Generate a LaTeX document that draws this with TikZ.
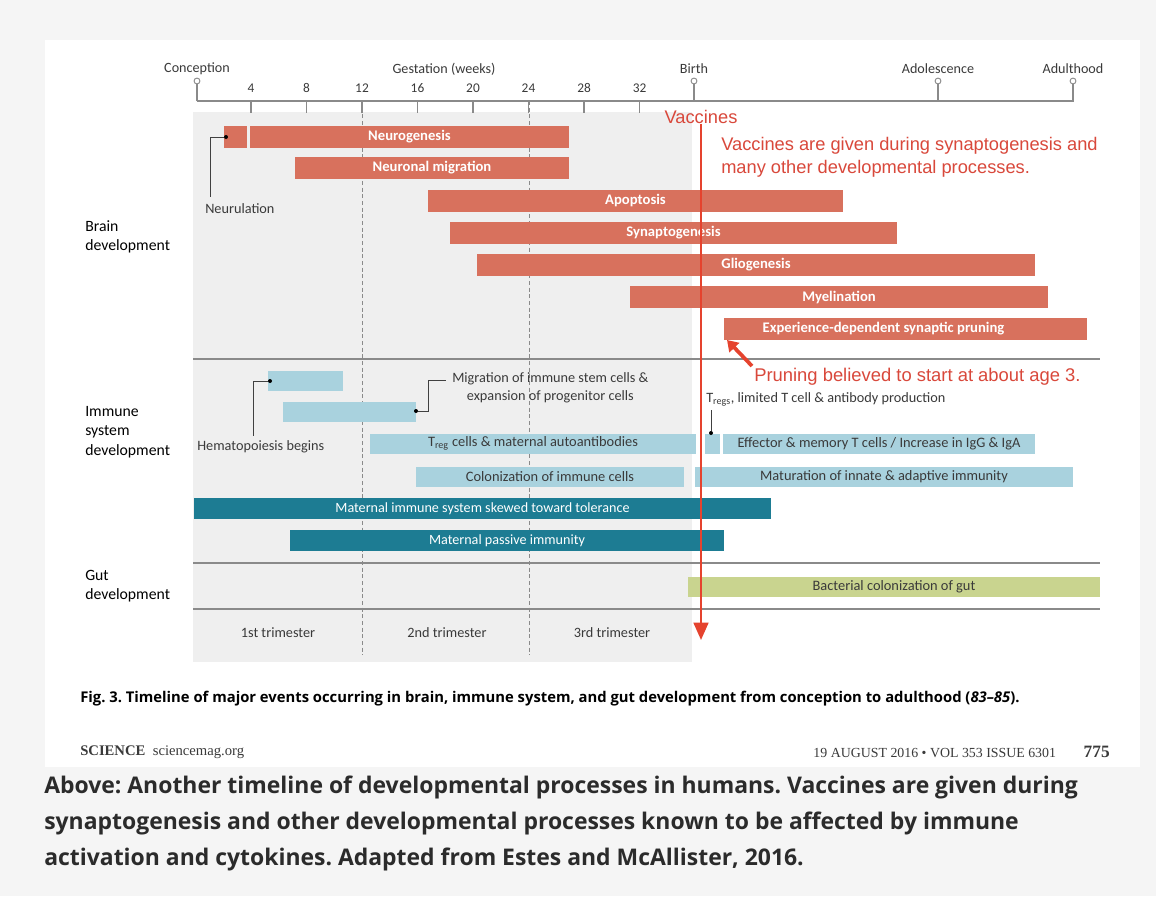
\documentclass[tikz,border=0pt]{standalone}
\usepackage{fontspec}
\setmainfont{Carlito}
\newfontfamily\arialf{Liberation Sans}
\newfontfamily\opensans{Open Sans}
\newfontfamily\serf{Liberation Serif}
\usetikzlibrary{arrows.meta}
\definecolor{bgout}{HTML}{F5F5F5}
\definecolor{panel}{HTML}{EFEFEF}
\definecolor{brainc}{HTML}{D8715D}
\definecolor{immlight}{HTML}{A9D2DE}
\definecolor{immdark}{HTML}{1D7C93}
\definecolor{gutc}{HTML}{C9D48F}
\definecolor{vred}{HTML}{E5432E}
\definecolor{vtext}{HTML}{D9483B}
\definecolor{axisc}{HTML}{8A8A8A}
\definecolor{txtc}{HTML}{3A3A3A}
\definecolor{capc}{HTML}{2B2B2B}
\newcommand\tlbar[6]{\node[#5, minimum width={(#3-#2)*0.75pt}, anchor=west] (#1) at (#2,#4) {#6};}
\tikzset{
  barbase/.style={rectangle, inner sep=0pt, outer sep=0pt},
  brainbar/.style={barbase, fill=brainc, text=white, minimum height=16.5pt, font=\fontsize{11}{12}\selectfont\bfseries},
  immbar/.style={barbase, fill=immlight, text=txtc, minimum height=15pt, font=\fontsize{10.8}{12}\selectfont},
  matbar/.style={barbase, fill=immdark, text=white, minimum height=15.5pt, font=\fontsize{10.6}{12}\selectfont},
  gutbar/.style={barbase, fill=gutc, text=txtc, minimum height=15pt, font=\fontsize{10.8}{12}\selectfont},
  axlab/.style={text=txtc, inner sep=0pt, font=\fontsize{10.6}{12}\selectfont},
  wklab/.style={text=txtc, inner sep=0pt, font=\fontsize{10}{12}\selectfont},
  seclab/.style={text=black, inner sep=0pt, align=left, anchor=west, font=\fontsize{11.8}{14.5}\selectfont},
  note/.style={text=txtc, inner sep=0pt, font=\fontsize{10.7}{13.5}\selectfont},
  sepline/.style={axisc, line width=0.9pt},
  callout/.style={black!75, line width=0.5pt},
  dotc/.style={fill=black, circle, inner sep=0pt, minimum size=3pt},
  redtxt/.style={text=vtext, inner sep=0pt, font=\arialf\fontsize{13.7}{17.3}\selectfont},
  redarrow/.style={vred, line width=1.9pt, -{Triangle[width=11pt,length=13pt]}},
  bigcapline/.style={anchor=base west, inner sep=0pt, text=capc, font=\opensans\bfseries\fontsize{17.2}{20}\selectfont\frenchspacing},
}
\begin{document}
\begin{tikzpicture}[x=0.75pt, y=-0.75pt]
\useasboundingbox (0,0) rectangle (1156,896);
\fill[bgout] (0,0) rectangle (1156,896);
\fill[white] (45,40) rectangle (1140,767);
\fill[panel] (193,112) rectangle (692,662);
% dashed trimester lines
\draw[axisc, line width=0.5pt, dash pattern=on 3pt off 2pt] (362,101) -- (362,655);
\draw[axisc, line width=0.5pt, dash pattern=on 3pt off 2pt] (529,101) -- (529,655);
% axis
\draw[axisc, line width=0.9pt] (197,101) -- (1074,101);
\foreach \w in {4,8,...,32}{
  \pgfmathsetmacro\xx{195.5+13.875*\w}
  \draw[axisc, line width=0.8pt] (\xx,101) -- (\xx,113);
  \node[wklab] (wk\w) at (\xx,88) {\w};
}
\foreach \xx/\nm/\lab in {197/conc/Conception, 694/birth/Birth, 938/adol/Adolescence, 1073/adult/Adulthood}{
  \node[axlab] (\nm) at (\xx,69) {\lab};
  \draw[axisc, line width=0.8pt] (\xx,101) -- (\xx,84);
  \draw[axisc, line width=0.7pt, fill=white] (\xx,81) circle[radius=2.2pt];
}
\node[axlab] (gest) at (444,69) {Gestation (weeks)};
% separators
\draw[sepline] (193,359) -- (1100,359);
\draw[sepline] (193,563) -- (1100,563);
\draw[sepline] (193,609) -- (1100,609);
% section labels
\node[seclab] (brainlab) at (85,237) {Brain\\development};
\node[seclab] (immlab) at (85,432) {Immune\\system\\development};
\node[seclab] (gutlab) at (85,586) {Gut\\development};
% brain bars
\tlbar{neurul}{224}{247}{137}{brainbar}{}
\tlbar{neurog}{250}{569}{137}{brainbar}{Neurogenesis}
\tlbar{migr}{295}{569}{168}{brainbar}{Neuronal migration}
\tlbar{apop}{428}{843}{201}{brainbar}{Apoptosis}
\tlbar{syn}{450}{897}{233}{brainbar}{Synaptogenesis}
\tlbar{glio}{477}{1035}{265}{brainbar}{Gliogenesis}
\tlbar{myel}{630}{1048}{297}{brainbar}{Myelination}
\tlbar{prune}{724}{1087}{329}{brainbar}{Experience-dependent synaptic pruning\hspace*{33pt}}
% neurulation callout
\node[dotc] (ndot) at (226,137) {};
\node[note, anchor=west] (neurtxt) at (205,209) {Neurulation};
\coordinate (nbend) at (210,137);
\coordinate (nend) at (210,197);
\draw[callout] (ndot) -- (nbend) -- (nend);
% immune bars
\tlbar{hema1}{268}{343}{381}{immbar}{}
\tlbar{hema2}{283}{416}{412}{immbar}{}
\tlbar{treg}{370}{696}{443.5}{immbar}{T\textsubscript{reg} cells \& maternal autoantibodies}
\tlbar{tsmall}{705}{720}{443.5}{immbar}{}
\tlbar{effec}{723}{1035}{443.5}{immbar}{Effector \& memory T cells / Increase in IgG \& IgA}
\tlbar{colon}{416}{684}{477}{immbar}{Colonization of immune cells}
\tlbar{matur}{695}{1073}{477}{immbar}{Maturation of innate \& adaptive immunity}
\tlbar{skew}{194}{771}{508.5}{matbar}{Maternal immune system skewed toward tolerance}
\tlbar{pass}{290}{724}{540.5}{matbar}{Maternal passive immunity}
% gut
\tlbar{gut}{688}{1100}{587}{gutbar}{Bacterial colonization of gut}
% immune callouts
\node[dotc] (hdot) at (270,381) {};
\node[note, anchor=west] (hematxt) at (197,447) {Hematopoiesis begins};
\coordinate (hbend) at (253,381);
\coordinate (hend) at (253,436);
\draw[callout] (hdot) -- (hbend) -- (hend);
\node[dotc] (mdot) at (416,411) {};
\node[note, align=center, anchor=west] (migtxt) at (452,388) {Migration of immune stem cells \&\\expansion of progenitor cells};
\coordinate (mb1) at (428,411);
\coordinate (mb2) at (428,380);
\coordinate (mb3) at (446,380);
\draw[callout] (mdot) -- (mb1) -- (mb2) -- (mb3);
\node[note, anchor=west] (tregtxt) at (706,399) {T\textsubscript{regs}, limited T cell \& antibody production};
\node[dotc] (tdot) at (711,433) {};
\coordinate (ttop) at (711,410);
\draw[callout] (ttop) -- (tdot);
% trimesters
\node[note] (tri1) at (278,633) {1st trimester};
\node[note] (tri2) at (447,633) {2nd trimester};
\node[note] (tri3) at (612,633) {3rd trimester};
% vaccines
\node[redtxt] (vacc) at (701,117) {Vaccines};
\coordinate (vbot) at (701,640);
\draw[redarrow] (vacc.south) -- (vbot);
\node[redtxt, anchor=west, align=left] (vnote) at (721,157) {Vaccines are given during synaptogenesis and\\many other developmental processes.};
\node[redtxt, anchor=west, font=\arialf\fontsize{13.8}{16}\selectfont] (prtxt) at (754,377) {Pruning believed to start at about age 3.};
\coordinate (prtail) at (752,366);
\coordinate (prtip) at (727,340);
\draw[vred, line width=2.8pt, -{Triangle[width=10pt,length=8pt]}] (prtail) -- (prtip);
% caption
\node[anchor=west, inner sep=0pt, text=black, font=\opensans\bfseries\fontsize{11.1}{12}\selectfont\frenchspacing] (figcap) at (80,699) {Fig. 3. Timeline of major events occurring in brain, immune system, and gut development from conception to adulthood (\textit{83–85}).};
\node[anchor=west, inner sep=0pt, text=txtc, font=\serf\fontsize{11}{12}\selectfont] (foot1) at (80,752) {\textbf{SCIENCE}\enspace sciencemag.org};
\node[anchor=east, inner sep=0pt, text=txtc, font=\serf\fontsize{10.4}{12}\selectfont] (foot2) at (1110,752) {19 AUGUST 2016 • VOL 353 ISSUE 6301\qquad{\fontsize{13}{13}\selectfont\textbf{775}}};
\node[bigcapline] (cap1) at (44,793) {Above: Another timeline of developmental processes in humans. Vaccines are given during};
\node[bigcapline] (cap2) at (44,829) {synaptogenesis and other developmental processes known to be affected by immune};
\node[bigcapline] (cap3) at (44,865) {activation and cytokines. Adapted from Estes and McAllister, 2016.};
\end{tikzpicture}
\end{document}
